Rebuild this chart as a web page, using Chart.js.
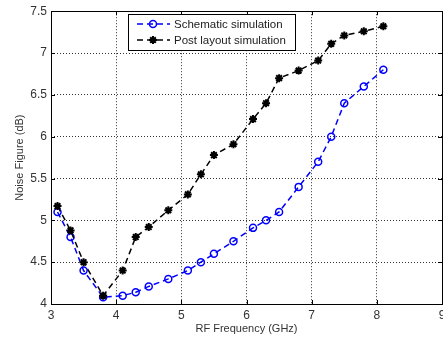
<!DOCTYPE html>
<html>
<head>
<meta charset="utf-8">
<script src="https://cdn.jsdelivr.net/npm/chart.js@4.4.0/dist/chart.umd.min.js"></script>
<style>
  html, body { margin: 0; padding: 0; overflow: hidden; background: #fff; }
  canvas { display: block; }
</style>
</head>
<body>
<canvas id="nf" width="452" height="340"></canvas>
<script>
// data
var freq = [3.1, 3.3, 3.5, 3.8, 4.1, 4.3, 4.5, 4.8, 5.1, 5.3, 5.5, 5.8, 6.1, 6.3, 6.5, 6.8, 7.1, 7.3, 7.5, 7.8, 8.1];
var schematic = [5.1, 4.8, 4.4, 4.08, 4.1, 4.14, 4.21, 4.3, 4.4, 4.5, 4.6, 4.75, 4.91, 5.0, 5.1, 5.4, 5.7, 6.0, 6.4, 6.6, 6.8];
var postLayout = [5.17, 4.88, 4.5, 4.1, 4.4, 4.8, 4.92, 5.12, 5.31, 5.55, 5.78, 5.91, 6.21, 6.4, 6.7, 6.79, 6.91, 7.11, 7.21, 7.26, 7.32];
var xTicks = [3, 4, 5, 6, 7, 8, 9];
var yTicks = [4, 4.5, 5, 5.5, 6, 6.5, 7, 7.5];

function toPoints(ys) {
  return freq.map(function (f, i) {
    return { x: f, y: ys[i] };
  });
}

function drawMarker(ctx, style, x, y, r, color, width) {
  ctx.save();
  ctx.setLineDash([]);
  ctx.strokeStyle = color;
  ctx.lineWidth = width;
  ctx.beginPath();
  if (style === "circle") {
    ctx.arc(x, y, r, 0, Math.PI * 2);
  } else {
    for (var k = 0; k < 4; k++) {
      var a = (k * Math.PI) / 4;
      ctx.moveTo(x - r * Math.cos(a), y - r * Math.sin(a));
      ctx.lineTo(x + r * Math.cos(a), y + r * Math.sin(a));
    }
  }
  ctx.stroke();
  ctx.restore();
}

// axes box + small inward ticks (matlab look)
var frameBox = {
  id: "frameBox",
  beforeDatasetsDraw: function (chart) {
    var ctx = chart.ctx;
    var a = chart.chartArea;
    var xs = chart.scales.x;
    var ys = chart.scales.y;
    ctx.save();
    ctx.strokeStyle = "#000";
    ctx.lineWidth = 1;
    ctx.beginPath();
    xs.ticks.forEach(function (t) {
      var px = Math.round(xs.getPixelForValue(t.value)) + 0.5;
      ctx.moveTo(px, a.bottom);
      ctx.lineTo(px, a.bottom - 4);
      ctx.moveTo(px, a.top);
      ctx.lineTo(px, a.top + 4);
    });
    ys.ticks.forEach(function (t) {
      var py = Math.round(ys.getPixelForValue(t.value)) + 0.5;
      ctx.moveTo(a.left, py);
      ctx.lineTo(a.left + 4, py);
      ctx.moveTo(a.right, py);
      ctx.lineTo(a.right - 4, py);
    });
    ctx.stroke();
    ctx.strokeRect(Math.round(a.left) + 0.5, Math.round(a.top) + 0.5, Math.round(a.right - a.left), Math.round(a.bottom - a.top));
    ctx.restore();
  },
};

var legendBox = {
  id: "legendBox",
  afterDraw: function (chart, args, opts) {
    var ctx = chart.ctx;
    ctx.save();
    ctx.fillStyle = "#fff";
    ctx.fillRect(opts.x, opts.y, opts.w, opts.h);
    ctx.strokeStyle = "#000";
    ctx.lineWidth = 1;
    ctx.strokeRect(opts.x + 0.5, opts.y + 0.5, opts.w, opts.h);
    ctx.font = "11.5px 'Liberation Sans', Arial, sans-serif";
    ctx.textBaseline = "middle";
    chart.data.datasets.forEach(function (ds, i) {
      var cy = opts.y + opts.rowTop + i * opts.rowGap;
      var x0 = opts.x + 9;
      ctx.save();
      ctx.strokeStyle = ds.borderColor;
      ctx.lineWidth = ds.borderWidth;
      ctx.setLineDash(ds.borderDash);
      ctx.beginPath();
      ctx.moveTo(x0, cy);
      ctx.lineTo(x0 + 33, cy);
      ctx.stroke();
      ctx.restore();
      drawMarker(ctx, ds.pointStyle, x0 + 16, cy, ds.pointRadius, ds.pointBorderColor, ds.pointBorderWidth);
      ctx.fillStyle = "#222";
      ctx.fillText(ds.label, x0 + 37, cy + 1);
    });
    ctx.restore();
  },
};

Chart.defaults.font.family = "'Liberation Sans', Arial, sans-serif";
Chart.defaults.font.size = 11;
Chart.defaults.color = "#333";

var nf_ctx = document.getElementById("nf").getContext("2d");

var nf = new Chart(nf_ctx, {
  type: "line",
  data: {
    datasets: [
      {
        label: "Schematic simulation",
        data: toPoints(schematic),
        borderColor: "#0000ff",
        borderWidth: 1.5,
        borderDash: [6, 4],
        pointStyle: "circle",
        pointRadius: 3.5,
        pointBorderColor: "#0000ff",
        pointBackgroundColor: "rgba(0,0,0,0)",
        pointBorderWidth: 1.5,
        fill: false,
        order: 1,
      },
      {
        label: "Post layout simulation",
        data: toPoints(postLayout),
        borderColor: "#000000",
        borderWidth: 1.5,
        borderDash: [6, 4],
        pointStyle: "star",
        pointRadius: 4,
        pointBorderColor: "#000000",
        pointBackgroundColor: "#000000",
        pointBorderWidth: 2,
        fill: false,
        order: 0,
      },
    ],
  },
  options: {
    responsive: false,
    animation: false,
    devicePixelRatio: 1,
    layout: {
      padding: { top: 11, right: 10, bottom: 0, left: 0 },
    },
    plugins: {
      tooltip: { enabled: false },
      legend: { display: false },
      legendBox: { x: 128, y: 14, w: 167, h: 36, rowTop: 10, rowGap: 16 },
    },
    scales: {
      x: {
        type: "linear",
        min: 3,
        max: 9,
        afterBuildTicks: function (scale) {
          scale.ticks = xTicks.map(function (v) { return { value: v }; });
        },
        afterFit: function (scale) {
          scale.height = 36;
        },
        ticks: {
          padding: 4,
          maxRotation: 0,
          font: { size: 12 },
          callback: function (v) { return String(v); },
        },
        grid: { color: "#333", lineWidth: 1, drawTicks: false },
        border: { display: false, dash: [1, 2] },
        title: {
          display: true,
          text: "RF Frequency (GHz)",
          padding: { top: 4, bottom: 4 },
        },
      },
      y: {
        type: "linear",
        min: 4,
        max: 7.5,
        afterBuildTicks: function (scale) {
          scale.ticks = yTicks.map(function (v) { return { value: v }; });
        },
        afterFit: function (scale) {
          scale.width = 51;
        },
        ticks: {
          padding: 4,
          font: { size: 12 },
          callback: function (v) { return String(v); },
        },
        grid: { color: "#333", lineWidth: 1, drawTicks: false },
        border: { display: false, dash: [1, 2] },
        title: {
          display: true,
          text: "Noise Figure (dB)",
          padding: { top: 13, bottom: 13 },
        },
      },
    },
  },
  plugins: [frameBox, legendBox],
});
</script>
</body>
</html>
